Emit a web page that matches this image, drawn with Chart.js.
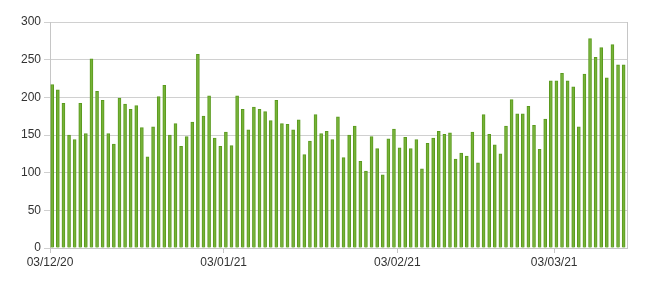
<!DOCTYPE html>
<html>
<head>
<meta charset="utf-8">
<script src="https://cdn.jsdelivr.net/npm/chart.js@4/dist/chart.umd.min.js"></script>
<style>
  html, body { margin: 0; padding: 0; background: #fff; }
  #wrap { width: 650px; height: 284px; }
</style>
</head>
<body>
<div id="wrap"><canvas id="chart"></canvas></div>
<script>
// one value per day, starting 03/12/20
const values = [
  217, 210, 192, 150, 144, 192, 152, 251, 208, 196,
  152, 138, 199, 191, 184, 189, 160, 121, 161, 201,
  216, 150, 165, 135, 148, 167, 257, 175, 202, 146,
  135, 154, 136, 202, 184, 157, 187, 184, 181, 169,
  196, 165, 164, 157, 170, 124, 142, 177, 152, 155,
  144, 174, 120, 150, 162, 115, 102, 148, 132, 97,
  145, 158, 133, 147, 132, 144, 105, 139, 146, 155,
  151, 153, 118, 126, 122, 154, 113, 177, 151, 137,
  125, 162, 197, 178, 178, 188, 163, 131, 171, 222,
  222, 232, 222, 214, 161, 231, 278, 253, 266, 226,
  270, 243, 243
]
const tickDays = [0, 31, 62, 90]
const tickLabels = ["03/12/20", "03/01/21", "03/02/21", "03/03/21"]

Chart.defaults.font.family = "'Liberation Sans', Arial, sans-serif"
Chart.defaults.font.size = 12
Chart.defaults.color = "#333"

const frame = {
  id: "frame",
  afterDraw(chart) {
    const { ctx, chartArea: a } = chart
    ctx.save()
    ctx.strokeStyle = "#c6c6c6"
    ctx.lineWidth = 1
    ctx.beginPath()
    ctx.moveTo(Math.round(a.right) + 0.5, a.top)
    ctx.lineTo(Math.round(a.right) + 0.5, a.bottom)
    ctx.stroke()
    ctx.restore()
  }
}

new Chart(document.getElementById("chart"), {
  type: "bar",
  data: {
    datasets: [{
      data: values.map((v, i) => ({ x: i + 0.4, y: v })),
      backgroundColor: "#76b238",
      borderColor: "#5a9a1e",
      borderWidth: 1,
      barThickness: 3
    }]
  },
  options: {
    responsive: true,
    maintainAspectRatio: false,
    animation: false,
    layout: { padding: { left: 0, right: 23, top: 22, bottom: 0 } },
    plugins: { legend: { display: false }, tooltip: { enabled: false } },
    scales: {
      x: {
        type: "linear",
        min: 0,
        max: 103,
        offset: false,
        afterBuildTicks: s => { s.ticks = tickDays.map(v => ({ value: v })) },
        afterFit: s => { s.height = 36 },
        ticks: {
          autoSkip: false,
          maxRotation: 0,
          padding: 2,
          callback: v => tickLabels[tickDays.indexOf(v)]
        },
        grid: { offset: false, drawOnChartArea: false, color: "#c6c6c6", tickLength: 5 },
        border: { color: "#c6c6c6" }
      },
      y: {
        min: 0,
        max: 300,
        afterFit: s => { s.width = 50 },
        ticks: { stepSize: 50, padding: 3 },
        grid: { color: "#d0d0d0", tickLength: 6 },
        border: { color: "#c6c6c6" }
      }
    }
  },
  plugins: [frame]
})
</script>
</body>
</html>
